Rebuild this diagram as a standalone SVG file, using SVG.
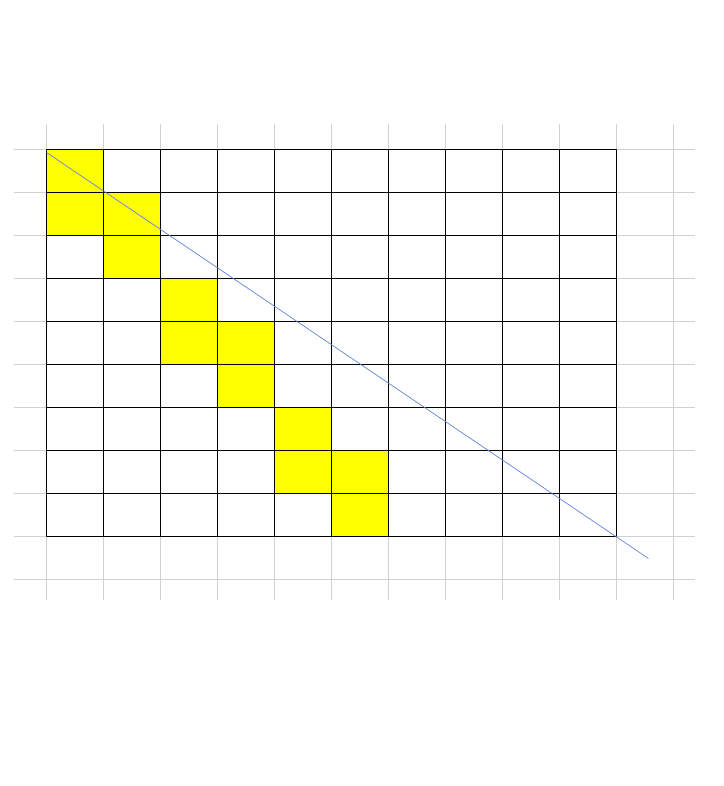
<svg xmlns="http://www.w3.org/2000/svg" width="724" height="786" viewBox="0 0 724 786">
<style>
.g{stroke:#d0d0d0;stroke-width:1;fill:none}
.y{fill:#ffff00;stroke:none}
.b{stroke:#000;stroke-width:1;fill:none}
</style>
<rect width="724" height="786" fill="#fff"/>
<g id="guides" class="g">
<path d="M14 149.5H695M14 192.5H695M14 235.5H695M14 278.5H695M14 321.5H695M14 364.5H695M14 407.5H695M14 450.5H695M14 493.5H695M14 536.5H695M14 579.5H695"/>
<path d="M46.5 124V600M103.5 124V600M160.5 124V600M217.5 124V600M274.5 124V600M331.5 124V600M388.5 124V600M445.5 124V600M502.5 124V600M559.5 124V600M616.5 124V600M673.5 124V600"/>
</g>
<g id="cells" class="y">
<rect x="46.5" y="149.5" width="57" height="43"/>
<rect x="46.5" y="192.5" width="57" height="43"/>
<rect x="103.5" y="192.5" width="57" height="43"/>
<rect x="103.5" y="235.5" width="57" height="43"/>
<rect x="160.5" y="278.5" width="57" height="43"/>
<rect x="160.5" y="321.5" width="57" height="43"/>
<rect x="217.5" y="321.5" width="57" height="43"/>
<rect x="217.5" y="364.5" width="57" height="43"/>
<rect x="274.5" y="407.5" width="57" height="43"/>
<rect x="274.5" y="450.5" width="57" height="43"/>
<rect x="331.5" y="450.5" width="57" height="43"/>
<rect x="331.5" y="493.5" width="57" height="43"/>
</g>
<g id="grid" class="b">
<path d="M46.5 149.5H616.5M46.5 192.5H616.5M46.5 235.5H616.5M46.5 278.5H616.5M46.5 321.5H616.5M46.5 364.5H616.5M46.5 407.5H616.5M46.5 450.5H616.5M46.5 493.5H616.5M46.5 536.5H616.5"/>
<path d="M46.5 149.5V536.5M103.5 149.5V536.5M160.5 149.5V536.5M217.5 149.5V536.5M274.5 149.5V536.5M331.5 149.5V536.5M388.5 149.5V536.5M445.5 149.5V536.5M502.5 149.5V536.5M559.5 149.5V536.5M616.5 149.5V536.5"/>
</g>
<g id="connectors">
<line x1="46.5" y1="152.5" x2="648.5" y2="558.5" stroke="#5b84d6" stroke-width="1"/>
</g>
</svg>
